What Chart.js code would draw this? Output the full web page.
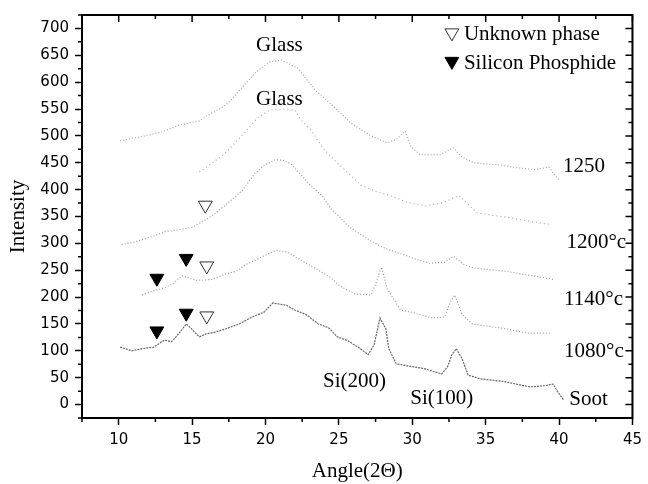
<!DOCTYPE html>
<html>
<head>
<meta charset="utf-8">
<script src="https://cdn.jsdelivr.net/npm/chart.js@4.4.1/dist/chart.umd.min.js"></script>
<style>
body { margin: 0; background: #fff; }
</style>
</head>
<body>
<canvas id="xrd" width="648" height="484"></canvas>
<script>
// values: [angle 2theta, intensity]
const curveTop = [[10.1,491],[11.8,500],[13.0,508],[14.1,520],[15.5,528],[16.1,539],[17.0,552],[17.6,565],[18.4,590],[19.4,620],[20.3,638],[21.1,641],[22.2,626],[23.4,585],[24.1,568],[25.1,543],[25.8,524],[27.2,500],[28.3,487],[28.9,493],[29.5,509],[29.9,481],[30.5,465],[31.9,465],[32.8,478],[33.3,462],[34.2,450],[35.9,446],[37.1,441],[38.4,437],[39.3,442],[40.0,417]];
const curve1250 = [[15.5,433],[16.4,450],[17.3,469],[18.6,507],[19.5,535],[20.3,548],[21.2,550],[22.0,548],[22.4,530],[23.1,511],[23.9,478],[24.5,460],[25.4,437],[26.5,408],[27.6,396],[28.5,389],[29.7,376],[30.9,370],[32.0,375],[33.2,389],[34.4,357],[35.5,352],[36.6,348],[38.0,341],[39.5,335]];
const curve1200 = [[10.2,298],[11.0,302],[12.1,311],[13.2,322],[14.0,325],[15.0,330],[16.0,345],[16.5,354],[17.7,381],[18.4,398],[19.3,431],[20.0,447],[20.7,456],[21.3,454],[21.8,446],[22.4,428],[23.0,410],[23.9,387],[24.5,363],[25.1,348],[25.6,333],[26.8,311],[27.6,298],[28.3,289],[29.5,278],[30.3,270],[31.2,263],[32.2,265],[32.8,276],[33.5,261],[34.2,254],[35.3,251],[36.4,248],[37.4,243],[38.4,239],[39.6,233]];
const curve1140 = [[11.6,204],[12.4,212],[13.1,217],[13.7,225],[14.3,240],[15.3,231],[16.4,233],[17.3,243],[18.0,248],[18.7,261],[20.0,278],[20.7,287],[21.5,284],[22.2,272],[23.3,255],[24.4,237],[25.1,220],[26.1,206],[27.2,204],[27.5,224],[27.9,256],[28.3,215],[29.2,176],[29.9,172],[31.4,161],[32.2,163],[32.6,191],[32.9,204],[33.4,167],[34.1,150],[35.1,146],[36.4,141],[37.8,133],[39.5,133]];
const curve1080 = [[10.1,107],[10.9,100],[11.6,104],[12.4,107],[13.1,120],[13.6,117],[13.9,126],[14.3,139],[14.6,150],[15.0,140],[15.3,131],[15.5,126],[15.9,131],[16.6,135],[17.3,141],[18.2,150],[19.1,163],[19.9,172],[20.5,189],[21.4,185],[22.0,176],[22.8,167],[23.6,150],[24.3,143],[24.9,126],[25.6,119],[26.3,107],[27.0,93],[27.4,111],[27.8,161],[28.2,141],[28.4,104],[28.9,76],[29.7,72],[30.8,67],[32.0,57],[32.4,70],[32.7,93],[33.0,104],[33.4,85],[33.8,55],[34.6,48],[36.2,43],[38.0,33],[39.0,35],[39.6,38],[39.9,24],[40.3,9]];

// peak markers
const siliconPhosphide = [[12.6,235],[14.6,272],[12.6,137],[14.6,170]];
const unknownPhase = [[15.9,371],[16.0,258],[16.0,165]];

// axis ticks
const angleTicks = [10, 15, 20, 25, 30, 35, 40, 45];
const intensityTicks = [0, 50, 100, 150, 200, 250, 300, 350, 400, 450, 500, 550, 600, 650, 700];

// text written on the plot, in data units
const notes = [
    {text: 'Glass', x: 20.95, y: 668, align: 'center'},
    {text: 'Glass', x: 20.95, y: 567, align: 'center'},
    {text: '1250', x: 40.27, y: 444},
    {text: '1200°c', x: 40.5, y: 302},
    {text: '1140°c', x: 40.34, y: 196},
    {text: '1080°c', x: 40.34, y: 98},
    {text: 'Soot', x: 40.7, y: 9},
    {text: 'Si(100)', x: 29.86, y: 11},
    {text: 'Si(200)', x: 23.92, y: 43}
];
const legendItems = [
    {text: 'Unknown phase', x: 32.7, y: 688, filled: false},
    {text: 'Silicon Phosphide', x: 32.7, y: 635, filled: true}
];

const serif = '"Liberation Serif", "Times New Roman", serif';

function toXY(arr) {
    return arr.map(function (p) { return {x: p[0], y: p[1]}; });
}

function scanLine(arr, colour, dash) {
    return {
        data: toXY(arr),
        borderColor: colour,
        borderWidth: 1.2,
        borderDash: dash,
        pointRadius: 0,
        tension: 0,
        fill: false
    };
}

function marks(arr, filled) {
    return {
        data: toXY(arr),
        showLine: false,
        pointStyle: 'triangle',
        rotation: 180,
        pointRadius: 8,
        borderWidth: 1,
        borderColor: filled ? '#000' : '#333',
        backgroundColor: filled ? '#000' : '#fff'
    };
}

const framePlugin = {
    id: 'frame',
    afterDraw(chart) {
        const ctx = chart.ctx;
        const a = chart.chartArea;
        const xs = chart.scales.x;
        const ys = chart.scales.y;
        ctx.save();
        ctx.strokeStyle = '#000';
        ctx.lineWidth = 2;
        ctx.strokeRect(a.left, a.top, a.right - a.left, a.bottom - a.top);

        ctx.lineWidth = 1.5;
        ctx.beginPath();
        // x ticks: minor outward at the bottom, all inward at the top
        for (let v = 7.5; v <= 45.01; v += 2.5) {
            const px = xs.getPixelForValue(v);
            const major = Math.abs(v % 5) < 0.01;
            if (!major) {
                ctx.moveTo(px, a.bottom); ctx.lineTo(px, a.bottom + 4);
            }
            ctx.moveTo(px, a.top); ctx.lineTo(px, a.top + (major ? 7 : 4));
        }
        // y ticks: minor outward on the left, all inward on the right
        for (let v = -25; v <= 725.01; v += 25) {
            const py = ys.getPixelForValue(v);
            const major = Math.abs(v % 50) < 0.01;
            if (!major) {
                ctx.moveTo(a.left, py); ctx.lineTo(a.left - 4, py);
            }
            ctx.moveTo(a.right, py); ctx.lineTo(a.right - (major ? 7 : 4), py);
        }
        ctx.stroke();

        ctx.fillStyle = '#000';
        ctx.font = '21px ' + serif;
        ctx.textBaseline = 'middle';
        notes.forEach(function (n) {
            ctx.textAlign = n.align || 'left';
            ctx.fillText(n.text, xs.getPixelForValue(n.x), ys.getPixelForValue(n.y));
        });

        legendItems.forEach(function (item) {
            const px = xs.getPixelForValue(item.x);
            const py = ys.getPixelForValue(item.y);
            ctx.fillStyle = item.filled ? '#000' : '#fff';
            ctx.strokeStyle = item.filled ? '#000' : '#333';
            ctx.lineWidth = 1;
            Chart.helpers.drawPoint(ctx, {pointStyle: 'triangle', rotation: 180, radius: 8, borderWidth: 1}, px, py - 2);
            ctx.fillStyle = '#000';
            ctx.textAlign = 'left';
            ctx.fillText(item.text, px + 12, py);
        });
        ctx.restore();
    }
};

const tickFont = {family: '"DejaVu Sans", sans-serif', size: 15};

new Chart(document.getElementById('xrd'), {
    type: 'line',
    data: {
        datasets: [
            scanLine(curveTop, '#a8a8a8', [1, 2]),
            scanLine(curve1250, '#a8a8a8', [1, 3]),
            scanLine(curve1200, '#9c9c9c', [1, 2]),
            scanLine(curve1140, '#9c9c9c', [1, 2]),
            scanLine(curve1080, '#666666', [2, 1]),
            marks(siliconPhosphide, true),
            marks(unknownPhase, false)
        ]
    },
    options: {
        responsive: false,
        animation: false,
        layout: {padding: {top: 12, right: 11, left: 0, bottom: 0}},
        plugins: {
            legend: {display: false},
            tooltip: {enabled: false}
        },
        scales: {
            x: {
                type: 'linear',
                min: 7.5,
                max: 45,
                afterBuildTicks(scale) { scale.ticks = angleTicks.map(function (v) { return {value: v}; }); },
                ticks: {color: '#000', font: tickFont, padding: 6, maxRotation: 0, autoSkip: false},
                grid: {drawOnChartArea: false, tickLength: 7, tickWidth: 1.5, tickColor: '#000'},
                border: {display: false},
                title: {display: true, text: 'Angle(2Θ)', color: '#000', font: {family: serif, size: 21}, padding: 0},
                afterFit(scale) { scale.height = 66; }
            },
            y: {
                type: 'linear',
                min: -25,
                max: 725,
                afterBuildTicks(scale) { scale.ticks = intensityTicks.map(function (v) { return {value: v}; }); },
                ticks: {color: '#000', font: tickFont, padding: 6, autoSkip: false},
                grid: {drawOnChartArea: false, tickLength: 7, tickWidth: 1.5, tickColor: '#000'},
                border: {display: false},
                title: {display: true, text: 'Intensity', color: '#000', font: {family: serif, size: 21}, padding: {top: 6, bottom: 0}},
                afterFit(scale) { scale.width = 82; }
            }
        }
    },
    plugins: [framePlugin]
});
</script>
</body>
</html>
